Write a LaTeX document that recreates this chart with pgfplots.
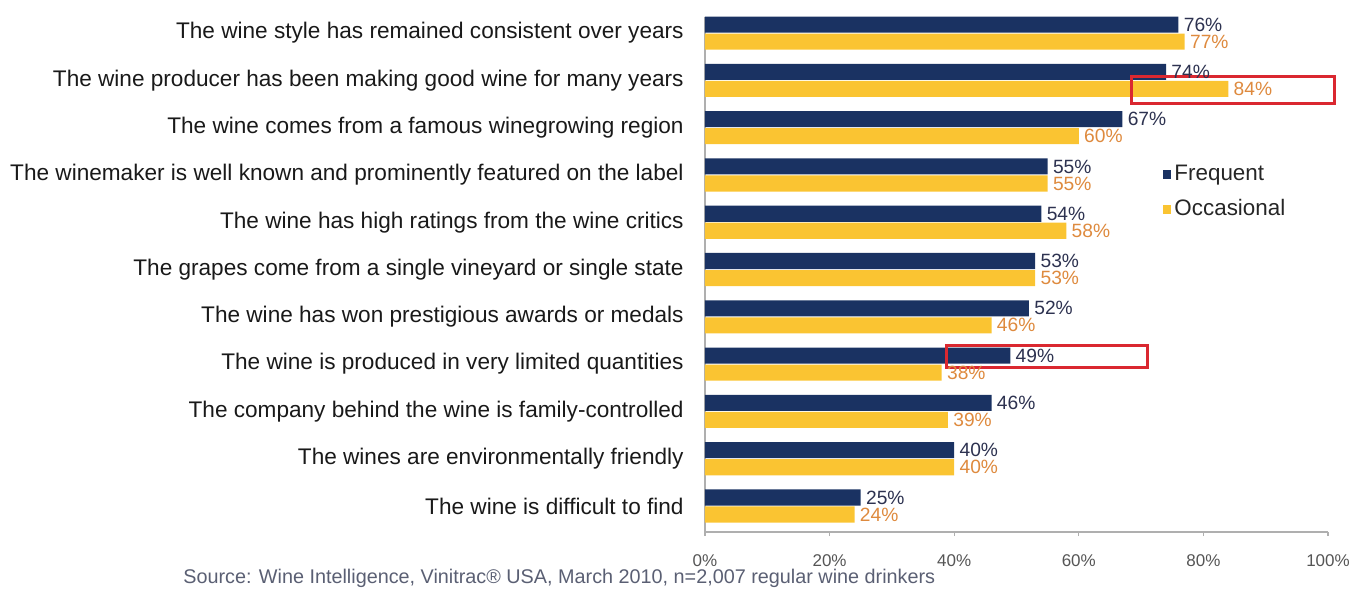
\documentclass[border=0pt]{standalone}
\usepackage{pgfplots}
\pgfplotsset{compat=1.18}
\usepackage{fontspec}
\setmainfont{Liberation Sans}
\definecolor{navy}{RGB}{26,50,98}
\definecolor{gold}{RGB}{250,196,50}
\definecolor{navytxt}{RGB}{45,50,80}
\definecolor{orangetxt}{RGB}{222,138,62}
\definecolor{redbox}{RGB}{218,40,48}
\definecolor{axisgray}{RGB}{175,175,175}
\definecolor{ticktxt}{RGB}{85,85,85}
\definecolor{srctxt}{RGB}{90,95,115}
\begin{document}
\begin{tikzpicture}[x=1pt,y=1pt]
\begin{axis}[
  at={(0pt,0pt)}, anchor=south west,
  scale only axis, width=311.5pt, height=257.5pt,
  xbar, bar width=0.34,
  xmin=0, xmax=100, ymin=-0.55, ymax=10.34,
  clip=false,
  axis lines*=left,
  axis line style={axisgray, line width=0.8pt},
  tick style={axisgray, line width=0.6pt},
  tick align=outside,
  xtick={0,20,40,60,80,100},
  xticklabels={0\%,20\%,40\%,60\%,80\%,100\%},
  major tick length=2pt,
  xticklabel style={font=\fontsize{8.5}{10}\selectfont, text=ticktxt, inner sep=0pt, anchor=north, yshift=-9pt},
  ytick={0,...,10},
  yticklabels={The wine is difficult to find,
    The wines are environmentally friendly,
    The company behind the wine is family-controlled,
    The wine is produced in very limited quantities,
    The wine has won prestigious awards or medals,
    The grapes come from a single vineyard or single state,
    The wine has high ratings from the wine critics,
    The winemaker is well known and prominently featured on the label,
    The wine comes from a famous winegrowing region,
    The wine producer has been making good wine for many years,
    The wine style has remained consistent over years},
  y tick style={draw=none},
  minor ytick={-0.5,0.5,...,9.5},
  minor y tick style={axisgray, line width=0.6pt},
  minor tick length=2.5pt,
  yticklabel style={font=\fontsize{11.3}{13}\selectfont, text=black!90, inner sep=0pt, anchor=east, xshift=-8.5pt},
  /pgf/number format/assume math mode=true,
  point meta=x,
  nodes near coords={\pgfmathprintnumber{\pgfplotspointmeta}\%},
  every node near coord/.append style={font=\fontsize{9.6}{11}\selectfont, anchor=west, inner sep=2.5pt},
  legend style={at={(axis cs:73.4,6.64)}, anchor=west, draw=none, fill=none, inner sep=0pt,
    font=\fontsize{11.2}{13}\selectfont, row sep=5pt, text=black!85,
    nodes={inner sep=1.5pt}},
  legend cell align=left,
  legend image code/.code={\path[#1,draw=none] (0pt,-2.2pt) rectangle (4.4pt,2.2pt);},
]
\addplot[fill=navy, draw=none, bar shift=0.18, every node near coord/.append style={text=navytxt}]
  coordinates {(76,10) (74,9) (67,8) (55,7) (54,6) (53,5) (52,4) (49,3) (46,2) (40,1) (25,0)};
\addlegendentry{Frequent}
\addplot[fill=gold, draw=none, bar shift=-0.18, every node near coord/.append style={text=orangetxt}]
  coordinates {(77,10) (84,9) (60,8) (55,7) (58,6) (53,5) (46,4) (38,3) (39,2) (40,1) (24,0)};
\addlegendentry{Occasional}
\draw[redbox, line width=1.5pt] (axis cs:68.5,9.09) rectangle (axis cs:101.1,8.52);
\draw[redbox, line width=1.5pt] (axis cs:38.7,3.40) rectangle (axis cs:71.1,2.92);
\end{axis}
\node[anchor=west, inner sep=0pt, text=srctxt, font=\fontsize{9.9}{11}\selectfont] at (-261pt,-23pt)
  {Source: Wine Intelligence, Vinitrac® USA, March 2010, n=2,007 regular wine drinkers};
\pgfresetboundingbox
\path (-352.5pt,-29pt) rectangle (323.5pt,266pt);
\end{tikzpicture}
\end{document}
